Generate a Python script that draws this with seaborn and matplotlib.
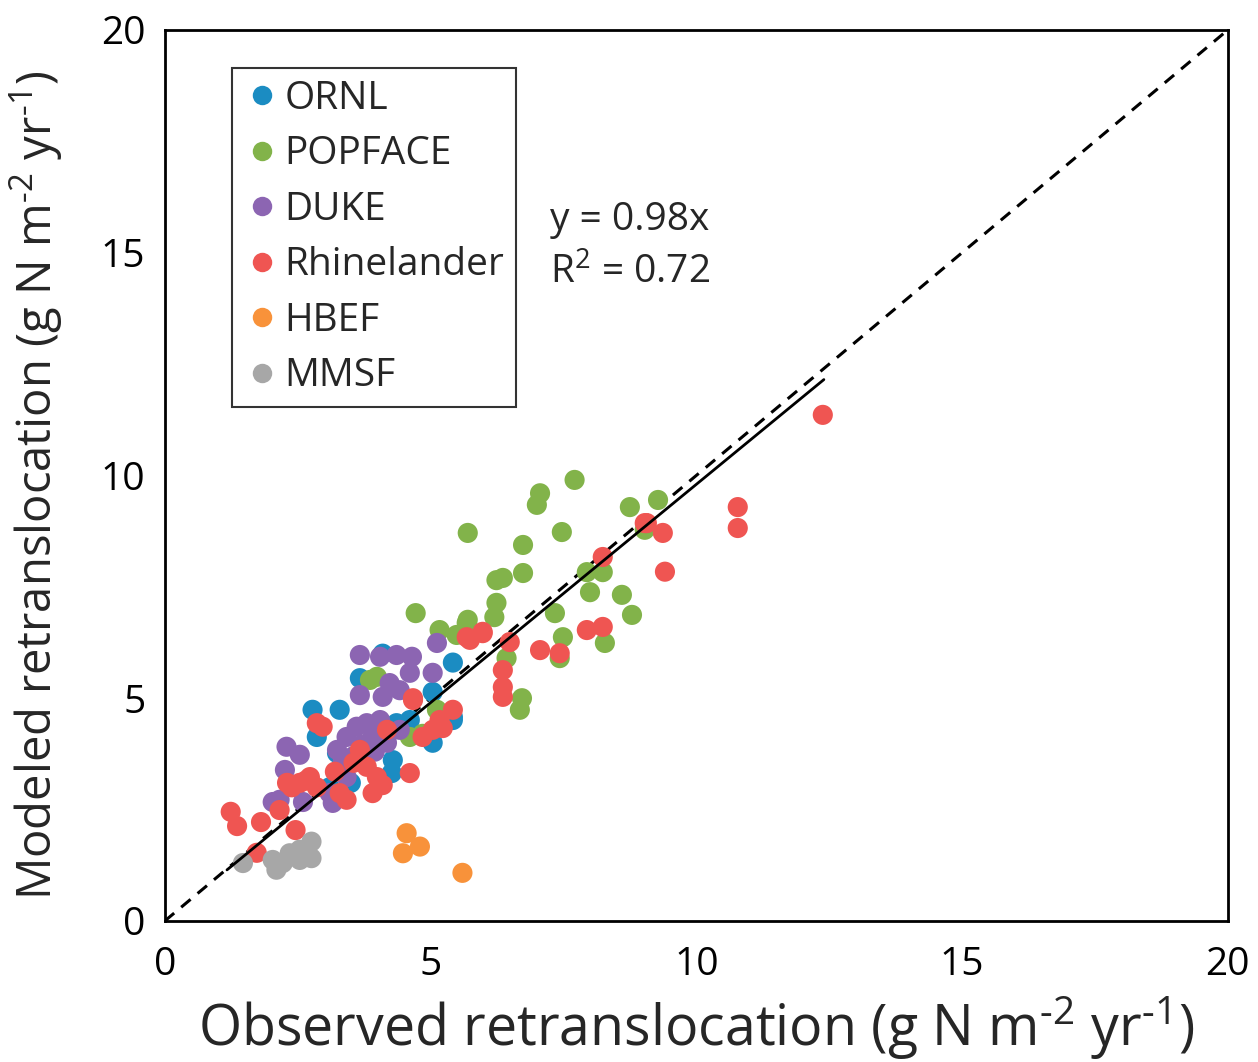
import numpy as np
import pandas as pd
import matplotlib
matplotlib.use("Agg")
import matplotlib.pyplot as plt
import seaborn as sns

sites = ["ORNL", "POPFACE", "DUKE", "Rhinelander", "HBEF", "MMSF"]
colors = ["#1b8cc2", "#82b34a", "#8c65b2", "#ef5552", "#f8923a", "#a7a7a7"]

ornl_x = [4.10, 5.42, 3.67, 5.04, 3.29, 2.86, 4.36, 3.24, 4.29, 4.27, 5.04, 5.42, 4.61, 5.42, 2.78, 3.10, 3.50]
ornl_y = [6.00, 5.80, 5.45, 5.14, 4.74, 4.13, 4.44, 3.77, 3.61, 3.32, 4.00, 4.58, 4.51, 4.51, 4.74, 3.00, 3.10]

pop_x = [7.71, 7.06, 7.00, 5.70, 6.74, 7.47, 8.75, 9.28, 9.03, 6.24, 6.36, 6.74, 7.94, 8.24, 8.00,
         8.60, 8.79, 6.24, 6.20, 7.34, 4.72, 5.70, 5.17, 5.49, 7.49, 8.28, 7.43, 6.43, 6.72, 6.68,
         3.86, 3.99, 4.61, 5.12, 5.68, 4.85]
pop_y = [9.90, 9.60, 9.34, 8.71, 8.44, 8.73, 9.29, 9.45, 8.78, 7.65, 7.70, 7.81, 7.83, 7.83, 7.38,
         7.32, 6.87, 7.14, 6.82, 6.91, 6.91, 6.76, 6.53, 6.42, 6.37, 6.24, 5.90, 5.90, 5.00, 4.74,
         5.41, 5.48, 4.13, 4.74, 6.69, 4.20]

duke_x = [5.12, 3.67, 4.05, 4.36, 4.65, 4.61, 5.04, 4.23, 3.67, 4.10, 4.42, 2.29, 2.54, 2.26, 2.16,
          2.03, 2.60, 3.16, 3.24, 3.42, 3.61, 3.80, 4.05, 3.91, 3.35, 4.18, 4.42, 3.42, 3.10, 3.70,
          3.95, 3.55]
duke_y = [6.24, 5.97, 5.93, 5.97, 5.93, 5.57, 5.57, 5.34, 5.07, 5.03, 5.18, 3.91, 3.73, 3.39, 2.72,
          2.67, 2.67, 2.65, 3.84, 4.13, 4.36, 4.44, 4.51, 4.13, 3.61, 4.00, 4.29, 3.23, 2.87, 3.95,
          3.80, 3.70]

rh_x = [1.24, 1.36, 1.81, 1.73, 2.46, 2.16, 2.39, 2.65, 2.86, 2.97, 2.54, 2.73, 2.86, 3.29, 3.42,
        3.67, 3.80, 3.99, 4.10, 3.91, 4.18, 4.67, 4.61, 5.04, 5.17, 5.42, 5.68, 5.98, 5.74, 5.98,
        6.49, 7.06, 7.43, 6.36, 6.36, 6.36, 7.94, 8.24, 8.24, 9.07, 9.37, 9.41, 4.67, 5.23, 4.85,
        12.38, 10.78, 10.78, 9.03, 3.55, 3.20, 2.30]
rh_y = [2.45, 2.13, 2.22, 1.53, 2.04, 2.49, 3.00, 3.15, 4.44, 4.36, 3.10, 3.23, 3.00, 2.87, 2.72,
        3.84, 3.46, 3.23, 3.05, 2.87, 4.29, 4.96, 3.32, 4.29, 4.51, 4.74, 6.37, 6.46, 6.31, 6.49,
        6.26, 6.08, 6.01, 5.63, 5.25, 5.03, 6.53, 6.60, 8.17, 8.93, 8.71, 7.84, 5.00, 4.33, 4.13,
        11.36, 9.29, 8.82, 8.93, 3.55, 3.35, 3.10]

hb_x = [4.55, 4.80, 4.48, 5.60]
hb_y = [1.97, 1.67, 1.52, 1.08]

mm_x = [1.47, 2.03, 2.10, 2.35, 2.54, 2.76, 2.76, 2.54, 2.22]
mm_y = [1.30, 1.37, 1.15, 1.52, 1.60, 1.78, 1.41, 1.37, 1.30]

slope = 0.98
fit_x = [1.17, 12.4]
one_x = [0, 20]

frames = []
for name, xs, ys in [("ORNL", ornl_x, ornl_y), ("POPFACE", pop_x, pop_y), ("DUKE", duke_x, duke_y),
                     ("Rhinelander", rh_x, rh_y), ("HBEF", hb_x, hb_y), ("MMSF", mm_x, mm_y)]:
    frames.append(pd.DataFrame({"obs": xs, "mod": ys, "site": name}))
df = pd.concat(frames, ignore_index=True)

sns.set_style("white")
plt.rcParams["font.family"] = ["Open Sans", "DejaVu Sans"]
plt.rcParams["mathtext.fontset"] = "custom"
plt.rcParams["mathtext.rm"] = "Open Sans"
plt.rcParams["mathtext.it"] = "Open Sans"
plt.rcParams["mathtext.default"] = "regular"

fig = plt.figure(figsize=(12.58, 10.62), dpi=100)
ax = fig.add_axes([0.131, 0.1328, 0.845, 0.839])

ax.plot(one_x, one_x, color="black", lw=2.2, ls=(0, (4, 3)), zorder=1)
ax.plot(fit_x, [slope * v for v in fit_x], color="black", lw=2.0, zorder=3)

sns.scatterplot(data=df, x="obs", y="mod", hue="site", hue_order=sites,
                palette=dict(zip(sites, colors)), s=210, edgecolor="none", linewidth=0,
                ax=ax, zorder=2, legend=True)

ax.set_xlim(0, 20)
ax.set_ylim(0, 20)
ax.set_xticks([0, 5, 10, 15, 20])
ax.set_yticks([0, 5, 10, 15, 20])
ax.tick_params(direction="in", length=11, width=1.8, labelsize=28, colors="black")
ax.tick_params(axis="x", pad=18)
ax.tick_params(axis="y", pad=14)
for sp in ax.spines.values():
    sp.set_color("black")
    sp.set_linewidth(2.0)

hy = "\u2010"
ax.set_xlabel("Observed retranslocation (g N m$^{" + hy + "2}$ yr$^{" + hy + "1}$)", fontsize=40, labelpad=7)
ax.set_ylabel("Modeled retranslocation (g N m$^{" + hy + "2}$ yr$^{" + hy + "1}$)", fontsize=34, labelpad=26)
ax.yaxis.label.set_y(0.489)

ax.text(0.362, 0.787, "y = 0.98x", transform=ax.transAxes, fontsize=28, va="center", ha="left")
ax.text(0.362, 0.727, r"R$^{2}$ = 0.72", transform=ax.transAxes, fontsize=28, va="center", ha="left")

leg = ax.legend(loc="upper left", bbox_to_anchor=(0.063, 0.957), borderaxespad=0,
                fontsize=28, frameon=True, fancybox=False,
                handletextpad=0.1, labelspacing=0.45, borderpad=0.3, handlelength=0.95)
for h in leg.legend_handles:
    try:
        h.set_markersize(14)
    except AttributeError:
        h.set_sizes([200])
leg.get_frame().set_edgecolor("black")
leg.get_frame().set_linewidth(1.5)

fig.savefig("out.png", dpi=100)
